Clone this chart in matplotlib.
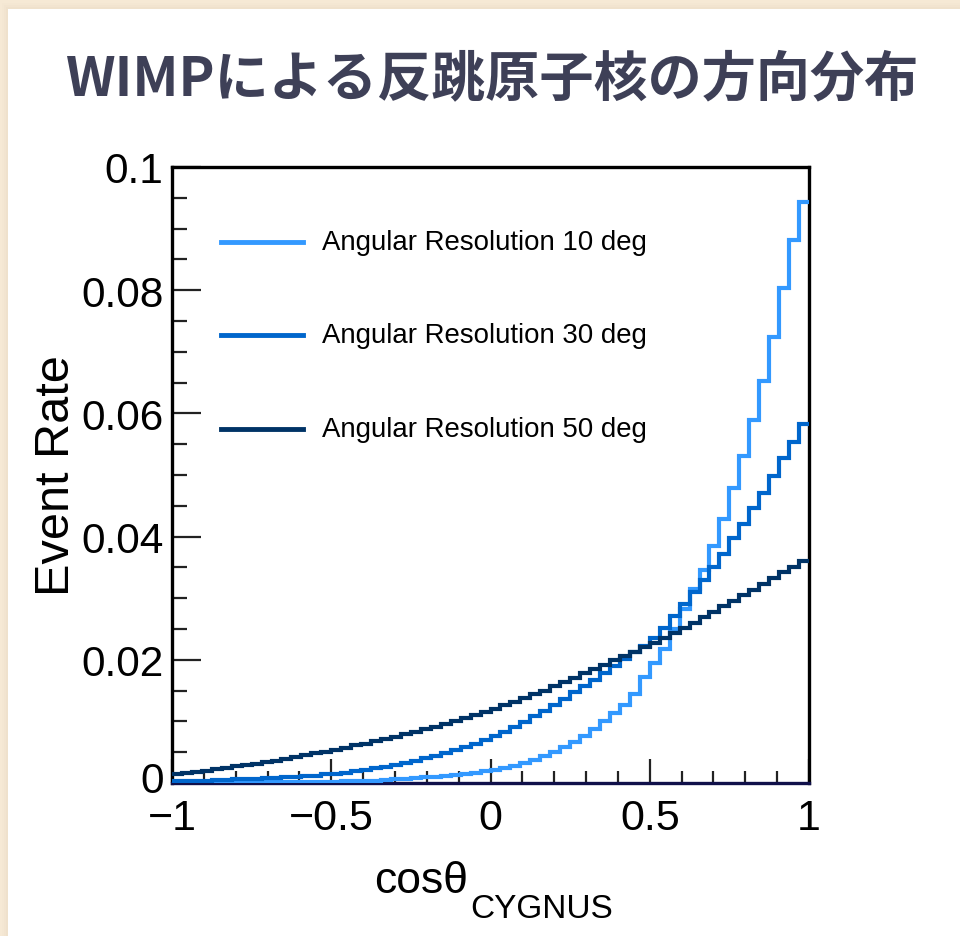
import numpy as np
import matplotlib
matplotlib.use("Agg")
import matplotlib.pyplot as plt
from matplotlib.patches import Rectangle
from matplotlib.transforms import ScaledTranslation

# cos(theta) binning: 64 bins over [-1, 1]
edges = np.linspace(-1.0, 1.0, 65)

res10 = [0.0000, 0.0000, 0.0000, 0.0000, 0.0000, 0.0000, 0.0001, 0.0001,
         0.0001, 0.0001, 0.0001, 0.0001, 0.0002, 0.0002, 0.0002, 0.0002,
         0.0002, 0.0003, 0.0003, 0.0004, 0.0004, 0.0005, 0.0006, 0.0007,
         0.0008, 0.0009, 0.0010, 0.0011, 0.0013, 0.0015, 0.0017, 0.0019,
         0.0021, 0.0024, 0.0028, 0.0033, 0.0038, 0.0044, 0.0051, 0.0058,
         0.0067, 0.0077, 0.0088, 0.0100, 0.0113, 0.0127, 0.0145, 0.0172,
         0.0194, 0.0218, 0.0250, 0.0283, 0.0315, 0.0345, 0.0384, 0.0428,
         0.0479, 0.0531, 0.0590, 0.0653, 0.0724, 0.0804, 0.0881, 0.0943]

res30 = [0.0003, 0.0003, 0.0004, 0.0004, 0.0005, 0.0005, 0.0006, 0.0006,
         0.0007, 0.0008, 0.0008, 0.0009, 0.0010, 0.0011, 0.0012, 0.0014,
         0.0015, 0.0017, 0.0019, 0.0021, 0.0024, 0.0026, 0.0029, 0.0032,
         0.0036, 0.0040, 0.0044, 0.0048, 0.0053, 0.0058, 0.0064, 0.0070,
         0.0076, 0.0083, 0.0091, 0.0099, 0.0108, 0.0117, 0.0127, 0.0137,
         0.0147, 0.0157, 0.0168, 0.0179, 0.0190, 0.0201, 0.0212, 0.0223,
         0.0235, 0.0252, 0.0271, 0.0290, 0.0310, 0.0330, 0.0351, 0.0372,
         0.0397, 0.0421, 0.0446, 0.0470, 0.0498, 0.0527, 0.0554, 0.0583]

res50 = [0.0014, 0.0016, 0.0018, 0.0020, 0.0022, 0.0024, 0.0027, 0.0029,
         0.0031, 0.0034, 0.0036, 0.0039, 0.0042, 0.0045, 0.0048, 0.0051,
         0.0054, 0.0057, 0.0061, 0.0064, 0.0068, 0.0072, 0.0075, 0.0079,
         0.0083, 0.0087, 0.0091, 0.0096, 0.0100, 0.0105, 0.0110, 0.0115,
         0.0120, 0.0126, 0.0132, 0.0138, 0.0144, 0.0150, 0.0157, 0.0164,
         0.0171, 0.0178, 0.0185, 0.0192, 0.0199, 0.0206, 0.0213, 0.0220,
         0.0227, 0.0235, 0.0243, 0.0251, 0.0260, 0.0269, 0.0278, 0.0287,
         0.0296, 0.0305, 0.0314, 0.0323, 0.0332, 0.0342, 0.0351, 0.0361]

labels = ["Angular Resolution 10 deg",
          "Angular Resolution 30 deg",
          "Angular Resolution 50 deg"]
colors = ["#3399ff", "#0066cc", "#003366"]

x_ticks = [-1, -0.5, 0, 0.5, 1]
x_ticklabels = ["\u22121", "\u22120.5", "0", "0.5", "1"]
y_ticks = [0, 0.02, 0.04, 0.06, 0.08, 0.1]
y_ticklabels = ["0", "0.02", "0.04", "0.06", "0.08", "0.1"]

W, H = 960, 937
fig = plt.figure(figsize=(W / 100, H / 100), dpi=100)
fig.patch.set_facecolor("#f6e9d5")

# white slide card with a soft shadow
for i, a in enumerate([0.05, 0.07, 0.10]):
    off = 6 - 2 * i
    fig.patches.append(Rectangle(((8 - off) / W, 0), 1, 1 - (10 - off) / H,
                                 transform=fig.transFigure,
                                 facecolor="#d9c9b0", alpha=a, lw=0,
                                 zorder=-3))
fig.patches.append(Rectangle((8 / W, 0), 1, 1 - 10 / H,
                             transform=fig.transFigure,
                             facecolor="white", lw=0, zorder=-2))

fig.text(0.513, 1 - 80 / H, "WIMPによる反跳原子核の方向分布",
         family=["Noto Sans CJK JP", "DejaVu Sans"], fontweight="bold",
         fontsize=39, color="#3e4057", ha="center", va="center")

plt.rcParams["font.family"] = ["Liberation Sans", "DejaVu Sans"]

ax = fig.add_axes([172 / W, 1 - 784 / H, (809 - 172) / W, (784 - 168) / H])
ax.set_facecolor("white")

for vals, c in zip([res10, res30, res50], colors):
    ax.stairs(vals, edges, color=c, lw=3.0, baseline=None, zorder=3)

ax.set_xlim(-1, 1)
ax.set_ylim(0, 0.1)
ax.set_xticks(x_ticks)
ax.set_xticklabels(x_ticklabels)
ax.set_yticks(y_ticks)
ax.set_yticklabels(y_ticklabels)
ax.set_xticks(np.arange(-1, 1.0001, 0.1), minor=True)
ax.set_yticks(np.arange(0, 0.1001, 0.005), minor=True)

ax.tick_params(axis="both", which="both", direction="in", top=False,
               right=False, width=1.6, colors="#222222", labelcolor="black")
ax.tick_params(axis="x", which="major", length=17, pad=11, labelsize=31)
ax.tick_params(axis="x", which="minor", length=9)
ax.tick_params(axis="y", which="major", length=21, pad=6, labelsize=30.5)
ax.tick_params(axis="y", which="minor", length=11)

for s in ax.spines.values():
    s.set_linewidth(2.4)
    s.set_color("black")
ax.spines["bottom"].set_color("#10104a")

# nudge the y "0" label up a few pixels so it clears the x "-1" label
lift = ScaledTranslation(0, 6 / 100, fig.dpi_scale_trans)
for t in ax.get_yticklabels():
    if t.get_text() == "0":
        t.set_transform(t.get_transform() + lift)

# legend drawn as line samples + labels
leg_y = [0.0879, 0.0728, 0.0574]
for yv, c, lab in zip(leg_y, colors, labels):
    ax.plot([-0.845, -0.59], [yv, yv], color=c, lw=3.5,
            clip_on=False, zorder=4)
    ax.text(-0.53, yv, lab, fontsize=19.9, va="center", ha="left",
            color="black")

ax.set_ylabel("Event Rate", fontsize=35, labelpad=2)

fig.text(374 / W, 1 - 893 / H, "cos\u03b8", fontsize=32, ha="left",
         va="baseline")
fig.text(470 / W, 1 - 918 / H, "CYGNUS", fontsize=24, ha="left",
         va="baseline")

fig.savefig("out.png", dpi=100, facecolor=fig.get_facecolor())
